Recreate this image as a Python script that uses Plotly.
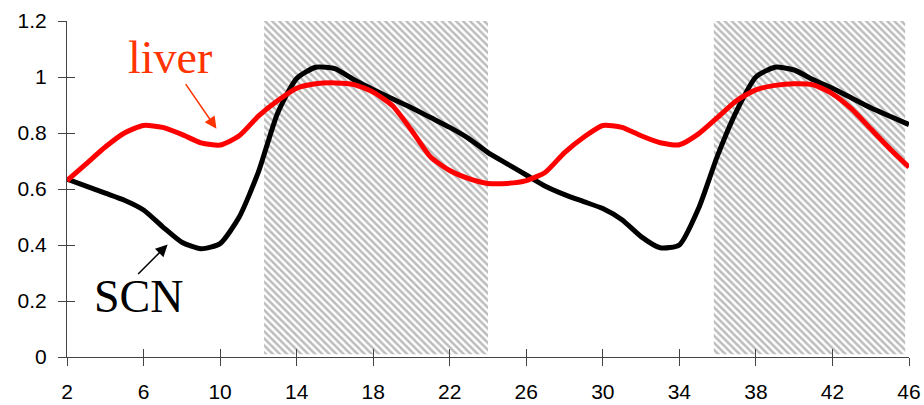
import plotly.graph_objects as go

hours = list(range(2, 47))
liver = [0.63, 0.69, 0.75, 0.80, 0.827, 0.82, 0.795, 0.765, 0.757, 0.79, 0.86, 0.915,
         0.96, 0.976, 0.979, 0.973, 0.946, 0.898, 0.81, 0.714, 0.666, 0.637, 0.62, 0.62,
         0.63, 0.66, 0.73, 0.785, 0.827, 0.82, 0.79, 0.765, 0.758, 0.797, 0.856, 0.916,
         0.954, 0.97, 0.976, 0.972, 0.94, 0.886, 0.815, 0.744, 0.678]
scn = [0.635, 0.61, 0.585, 0.56, 0.525, 0.465, 0.41, 0.387, 0.405, 0.50, 0.66, 0.87,
       0.995, 1.035, 1.03, 0.99, 0.955, 0.922, 0.89, 0.855, 0.82, 0.78, 0.73, 0.69,
       0.65, 0.61, 0.58, 0.555, 0.53, 0.49, 0.43, 0.39, 0.40, 0.53, 0.72, 0.88,
       1.0, 1.035, 1.025, 0.99, 0.96, 0.925, 0.89, 0.86, 0.83]
dark_start = [12.3, 35.8]
dark_end = [24.0, 45.8]
dark_low, dark_high = 0.01, 1.215
x_ticks = list(range(2, 47, 4))
y_ticks = [0, 0.2, 0.4, 0.6, 0.8, 1, 1.2]
y_tick_text = ["0", "0.2", "0.4", "0.6", "0.8", "1", "1.2"]

fig = go.Figure()

for s, e in zip(dark_start, dark_end):
    fig.add_trace(go.Scatter(
        x=[s, e, e, s, s], y=[dark_low, dark_low, dark_high, dark_high, dark_low],
        fill="toself", mode="none", hoverinfo="skip", showlegend=False,
        fillcolor="white",
        fillpattern=dict(shape="\\", fgcolor="#7a7a7a", bgcolor="white",
                         size=5, solidity=0.5)))

fig.add_trace(go.Scatter(x=hours, y=scn, mode="lines", showlegend=False,
                         line=dict(color="black", width=5, shape="spline", smoothing=0.6)))
fig.add_trace(go.Scatter(x=hours, y=liver, mode="lines", showlegend=False,
                         line=dict(color="#ff0000", width=5, shape="spline", smoothing=0.6)))
# helper trace for inner tick marks (ticks cross the axis line)
fig.add_trace(go.Scatter(x=[2], y=[0], xaxis="x2", yaxis="y2", mode="none",
                         showlegend=False, hoverinfo="skip"))

axis_font = dict(family="Liberation Sans, Arial", size=21, color="black")
fig.update_layout(
    width=924, height=405,
    margin=dict(l=67, r=15, t=21, b=48),
    plot_bgcolor="white", paper_bgcolor="white",
    xaxis=dict(range=[2, 46], tickvals=x_ticks, ticks="outside", ticklen=8,
               tickcolor="#444", linecolor="#444", linewidth=1.2, showline=True,
               showgrid=False, zeroline=False, tickfont=axis_font,
               ticklabelstandoff=8, automargin=False),
    yaxis=dict(range=[0, 1.2], tickvals=y_ticks, ticktext=y_tick_text, ticks="outside",
               ticklen=8, tickcolor="#444", linecolor="#444", linewidth=1.2,
               showline=True, showgrid=False, zeroline=False, tickfont=axis_font,
               ticklabelstandoff=7, automargin=False),
    xaxis2=dict(range=[2, 46], tickvals=x_ticks, ticks="inside", ticklen=8,
                tickcolor="#444", overlaying="x", anchor="y2", showticklabels=False,
                showline=False, showgrid=False, zeroline=False, automargin=False),
    yaxis2=dict(range=[0, 1.2], tickvals=y_ticks, ticks="inside", ticklen=8,
                tickcolor="#444", overlaying="y", anchor="x2", showticklabels=False,
                showline=False, showgrid=False, zeroline=False, automargin=False),
)

serif = dict(family="Liberation Serif, Times New Roman", size=46)
fig.add_annotation(x=7.4, y=1.07, text="liver", showarrow=False,
                   font=dict(serif, color="#ff3300"))
fig.add_annotation(x=5.75, y=0.215, text="SCN", showarrow=False,
                   font=dict(serif, color="black"))
fig.add_annotation(x=9.81, y=0.815, ax=8.15, ay=0.98, axref="x", ayref="y",
                   text="", showarrow=True, arrowhead=2, arrowsize=1.6,
                   arrowwidth=1.5, arrowcolor="#ff3300")
fig.add_annotation(x=7.26, y=0.402, ax=5.64, ay=0.291, axref="x", ayref="y",
                   text="", showarrow=True, arrowhead=2, arrowsize=1.6,
                   arrowwidth=1.5, arrowcolor="black")

fig.write_html("out.html", config={"displayModeBar": False},
               post_script="document.body.style.margin='0px';")
